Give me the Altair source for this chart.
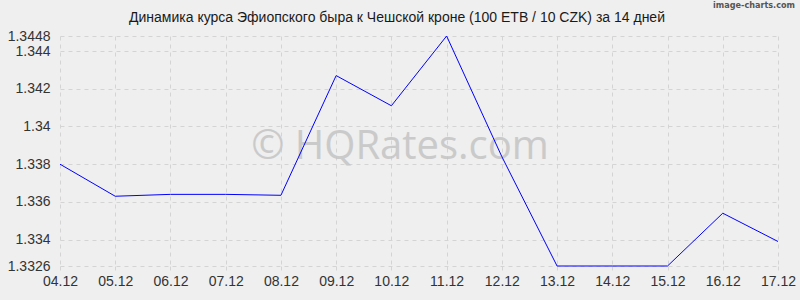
import altair as alt
import pandas as pd

dates = ["04.12", "05.12", "06.12", "07.12", "08.12", "09.12", "10.12",
         "11.12", "12.12", "13.12", "14.12", "15.12", "16.12", "17.12"]
rates = [1.3380, 1.3363, 1.3364, 1.3364, 1.33635, 1.3427, 1.3411,
         1.3448, 1.3384, 1.3326, 1.3326, 1.3326, 1.3354, 1.3339]
y_ticks = [1.3326, 1.334, 1.336, 1.338, 1.34, 1.342, 1.344, 1.3448]
title = "Динамика курса Эфиопского быра к Чешской кроне (100 ETB / 10 CZK) за 14 дней"

df = pd.DataFrame({"date": dates, "rate": rates})

FONT = "Liberation Sans"

x_enc = alt.X("date:N", sort=dates, title=None,
              scale=alt.Scale(type="point", padding=0),
              axis=alt.Axis(labelAngle=0, labelFontSize=14, labelColor="#333333",
                            labelFont=FONT, grid=True, gridDash=[4, 4],
                            gridColor="#d4d4d4", domain=False, tickDash=[4, 4],
                            tickColor="#d4d4d4", tickSize=6, labelPadding=2))
y_enc = alt.Y("rate:Q", title=None,
              scale=alt.Scale(domain=[1.3326, 1.3448], nice=False, zero=False),
              axis=alt.Axis(values=y_ticks, labelExpr="'' + datum.value", labelFontSize=14,
                            labelColor="#333333", labelFont=FONT, grid=True,
                            gridDash=[4, 4], gridColor="#d4d4d4", domain=False,
                            ticks=False, labelPadding=10))

line = alt.Chart(df).mark_line(color="#0000ff", strokeWidth=1).encode(x=x_enc, y=y_enc)

watermark = alt.Chart(pd.DataFrame({"t": ["© HQRates.com"]})).mark_text(
    fontSize=40, font="Open Sans", color="#c4c4c4", opacity=0.85, align="center",
    baseline="middle").encode(text="t:N", x=alt.value(340), y=alt.value(111))

brand = alt.Chart(pd.DataFrame({"t": ["image-charts.com"]})).mark_text(
    fontSize=9, font="DejaVu Sans Condensed", fontWeight="bold", color="#555555",
    align="right", baseline="middle").encode(text="t:N", x=alt.value(735), y=alt.value(-31))

ttl = alt.Chart(pd.DataFrame({"t": [title]})).mark_text(
    fontSize=14, font=FONT, color="#1a1a1a", align="center",
    baseline="middle").encode(text="t:N", x=alt.value(337), y=alt.value(-18))

chart = alt.layer(watermark, line, brand, ttl).properties(
    width=718, height=230,
    autosize=alt.AutoSizeParams(type="none"),
    padding={"left": 60, "top": 36, "right": 22, "bottom": 34},
    background="#efefef",
).configure_view(stroke=None)

chart.save("out.html", embed_options={"renderer": "svg", "actions": False})
